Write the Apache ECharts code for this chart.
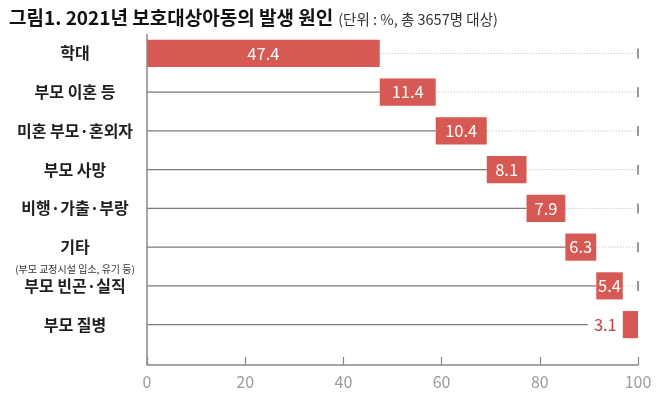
<!DOCTYPE html>
<html>
<head>
<meta charset="utf-8">
<script src="https://cdn.jsdelivr.net/npm/echarts@6/dist/echarts.min.js"></script>
<style>
  html, body { margin: 0; padding: 0; background: #fff; }
  #chart { width: 658px; height: 396px; }
</style>
</head>
<body>
<div id="chart"></div>
<script>
// 2021년 보호대상아동의 발생 원인 (단위: %)
const categories = ['학대', '부모 이혼 등', '미혼 부모·혼외자', '부모 사망', '비행·가출·부랑', '기타', '부모 빈곤·실직', '부모 질병'];
const shares = [47.4, 11.4, 10.4, 8.1, 7.9, 6.3, 5.4, 3.1];
const xTicks = [0, 20, 40, 60, 80, 100];

const FONT = '"Noto Sans CJK KR", "Noto Sans", sans-serif';
const RED = '#d65a53';
const GRID_LEFT = 147, GRID_RIGHT = 20, GRID_TOP = 34, GRID_HEIGHT = 310;
const AXIS_DROP = 21; // x axis sits a bit below the last row

// waterfall: each bar starts where the previous one ended
let acc = 0;
const rows = shares.map(function (v, i) {
    const start = acc;
    acc = Math.round((acc + v) * 10) / 10;
    return [start, i, acc, v];
});

function renderRow(params, api) {
    const i = api.value(1);
    const start = api.value(0), end = api.value(2), v = api.value(3);
    const y = api.coord([0, i])[1];
    const x0 = api.coord([0, i])[0];
    const xs = api.coord([start, i])[0];
    const xe = api.coord([end, i])[0];
    const xMax = api.coord([xTicks[xTicks.length - 1], i])[0];
    const h = api.size([0, 1])[1] * 0.7;
    const last = i === categories.length - 1;
    const children = [];

    // solid guide from the axis to the bar
    if (xs > x0 + 1) {
        children.push({
            type: 'line',
            shape: { x1: x0, y1: y, x2: last ? xs - 35 : xs, y2: y },
            style: { stroke: '#7a7a7a', lineWidth: 1.3 }
        });
    }
    // dotted guide from the bar to 100, with an end tick
    if (xMax > xe + 1) {
        children.push({
            type: 'line',
            shape: { x1: xe, y1: y, x2: xMax, y2: y },
            style: { stroke: '#b5b5b5', lineWidth: 1, lineDash: [1, 2] }
        });
        children.push({
            type: 'line',
            shape: { x1: xMax, y1: y - 5, x2: xMax, y2: y + 5 },
            style: { stroke: '#555', lineWidth: 1.2 }
        });
    }
    children.push({
        type: 'rect',
        shape: { x: xs, y: y - h / 2, width: xe - xs, height: h },
        style: { fill: RED }
    });
    children.push({
        type: 'text',
        x: last ? xs - 6 : (xs + xe) / 2,
        y: y,
        style: {
            text: v.toFixed(1),
            align: last ? 'right' : 'center',
            verticalAlign: 'middle',
            fill: last ? '#c8423c' : '#fff',
            fontSize: 16.5,
            fontFamily: FONT
        }
    });
    return { type: 'group', children: children };
}

const option = {
    animation: false,
    backgroundColor: '#fff',
    title: {
        left: 4,
        top: 0,
        text: '{a|그림1. 2021년 보호대상아동의 발생 원인} {b|(단위 : %, 총 3657명 대상)}',
        textStyle: {
            rich: {
                a: { fontSize: 19, fontWeight: 'bold', color: '#111', fontFamily: FONT, lineHeight: 26 },
                b: { fontSize: 14.5, fontWeight: 'normal', color: '#333', fontFamily: FONT, lineHeight: 26, padding: [3, 0, 0, 0] }
            }
        }
    },
    grid: { left: GRID_LEFT, right: GRID_RIGHT, top: GRID_TOP, height: GRID_HEIGHT },
    xAxis: {
        type: 'value',
        min: xTicks[0],
        max: xTicks[xTicks.length - 1],
        interval: 20,
        offset: AXIS_DROP,
        axisLine: { show: true, lineStyle: { color: '#888', width: 1.5 } },
        axisTick: { show: true, inside: true, length: 8, lineStyle: { color: '#888', width: 1.2 } },
        axisLabel: { color: '#9a9a9a', fontSize: 16, margin: 9, fontFamily: FONT },
        splitLine: { show: false }
    },
    yAxis: {
        type: 'category',
        inverse: true,
        data: categories,
        axisLine: { show: false },
        axisTick: { show: false },
        axisLabel: {
            align: 'center',
            margin: 72,
            color: '#1e1e1e',
            fontSize: 16,
            fontWeight: 'bold',
            fontFamily: FONT,
            formatter: function (name) {
                if (name === '기타') return '{s| }\n{a|기타}\n{b|(부모 교정시설 입소, 유기 등)}';
                return name;
            },
            rich: {
                s: { fontSize: 10, lineHeight: 22 },
                a: { fontSize: 16, fontWeight: 'bold', color: '#1e1e1e', fontFamily: FONT, lineHeight: 22 },
                b: { fontSize: 10, fontWeight: 'normal', color: '#333', fontFamily: FONT, lineHeight: 22 }
            }
        }
    },
    graphic: [{
        type: 'line',
        shape: { x1: GRID_LEFT, y1: GRID_TOP, x2: GRID_LEFT, y2: GRID_TOP + GRID_HEIGHT + AXIS_DROP },
        style: { stroke: '#888', lineWidth: 1.5 },
        z: 5
    }],
    series: [{
        type: 'custom',
        renderItem: renderRow,
        encode: { x: [0, 2], y: 1 },
        data: rows
    }]
};

const chart = echarts.init(document.getElementById('chart'));
chart.setOption(option);
</script>
</body>
</html>
